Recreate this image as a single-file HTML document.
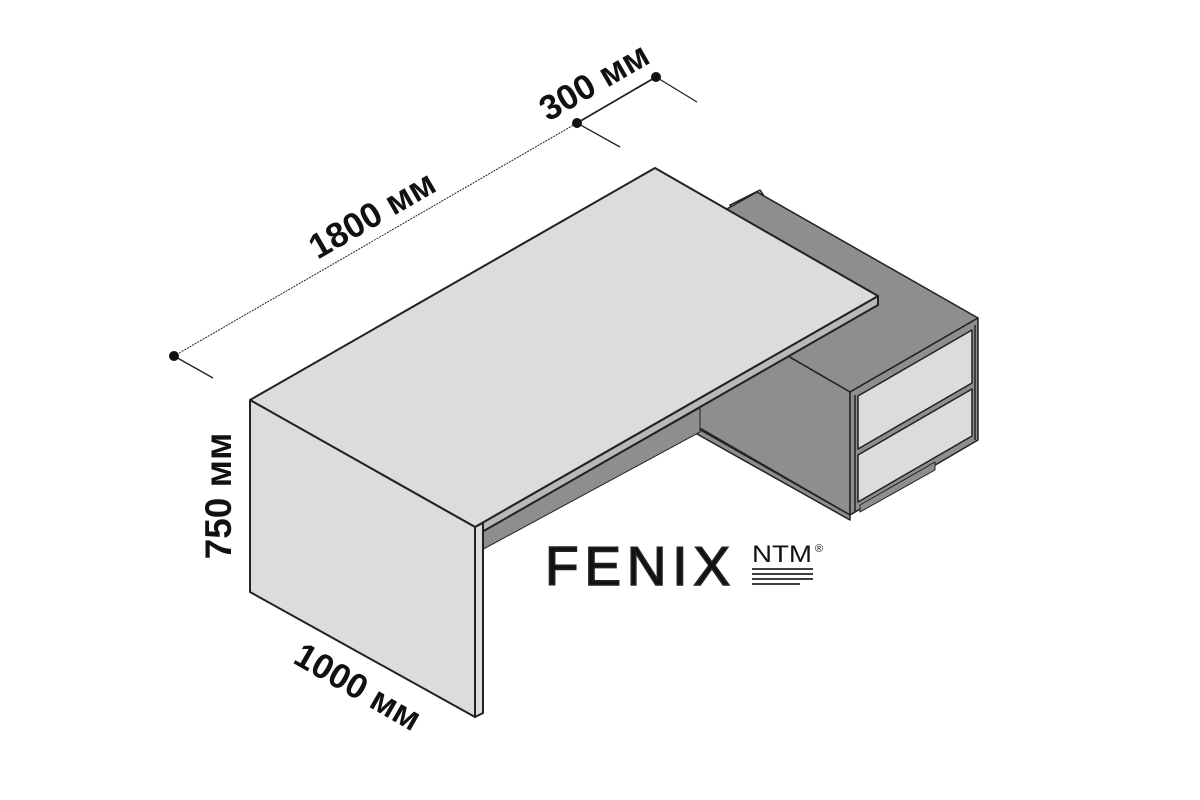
<!DOCTYPE html>
<html><head><meta charset="utf-8"><style>
html,body{margin:0;padding:0;background:#fff;}
svg{display:block;}
text{font-family:"Liberation Sans",sans-serif;font-weight:bold;fill:#111;}
</style></head><body>
<svg width="1200" height="800" viewBox="0 0 1200 800" xmlns="http://www.w3.org/2000/svg">
<rect width="1200" height="800" fill="#fff"/>
<g stroke="#222" fill="none">
<line x1="174" y1="356" x2="577" y2="123" stroke-width="1" stroke-dasharray="2,1"/>
<line x1="577" y1="123" x2="656" y2="77" stroke-width="1.8"/>
<line x1="174" y1="356" x2="213" y2="378" stroke-width="1.3"/>
<line x1="577" y1="123" x2="620" y2="147" stroke-width="1.3"/>
<line x1="656" y1="77" x2="697" y2="102" stroke-width="1.3"/>
</g>
<g fill="#111"><circle cx="174" cy="356" r="5"/><circle cx="577" cy="123" r="5"/><circle cx="656" cy="77" r="5"/></g>
<text font-size="35" text-anchor="middle" transform="translate(378,225) rotate(-30)">1800 мм</text>
<text font-size="35" text-anchor="middle" transform="translate(600,92) rotate(-30)">300 мм</text>
<text font-size="37" text-anchor="middle" transform="translate(231,496) rotate(-90)">750 мм</text>
<text font-size="35" text-anchor="middle" transform="translate(352,697) rotate(30)">1000 мм</text>

<g stroke="#222" stroke-width="1.5" stroke-linejoin="round">
<polygon points="730,205 760,190 764,196 734,212" fill="#bbb"/>
<polygon points="978,318 757,192 629,264 850,392" fill="#8e8e90"/>
<polygon points="850,392 629,264 629,387 850,515" fill="#8e8e90"/>
<polygon points="697,428 850,515 850,520 697,434" fill="#8e8e90"/>
<polygon points="850,392 978,318 978,440 850,515" fill="#8e8e90"/>
<polygon points="858,396 972,330 972,383 858,449" fill="#dcdcde"/>
<polygon points="858,455 972,389 972,436 858,502" fill="#dcdcde"/>
<line x1="855" y1="395" x2="855" y2="512"/>
<line x1="975" y1="325" x2="975" y2="440"/>
<polygon points="860,505 935,462 935,470 860,512" fill="#8e8e90" stroke-width="1"/>
</g>
<polygon points="478,533 700,408 700,432 478,552" fill="#8e8e90" stroke="#222" stroke-width="1"/>
<g stroke="#222" stroke-width="2" stroke-linejoin="round">
<polygon points="475,527 878,296 878,305 475,536" fill="#b8b8ba"/>
<polygon points="250,400 655,168 878,296 475,527" fill="#dcdcde"/>
<polygon points="250,400 475,527 475,717 250,592" fill="#dcdcde"/>
<polygon points="475,527 483,523 483,713 475,717" fill="#dcdcde"/>
</g>
<text x="545" y="585" font-size="55" style="font-weight:normal" stroke="#222" stroke-width="1.6" textLength="185" lengthAdjust="spacing" fill="#222">FENIX</text>
<text x="752" y="562" font-size="24" style="font-weight:normal" fill="#222" textLength="60" lengthAdjust="spacingAndGlyphs">NTM</text>
<text x="815" y="552" font-size="11" style="font-weight:normal" fill="#222">®</text>
<g stroke="#222" stroke-width="1.8">
<line x1="752" y1="569" x2="813" y2="569"/>
<line x1="752" y1="574" x2="813" y2="574"/>
<line x1="752" y1="579" x2="813" y2="579"/>
<line x1="752" y1="584" x2="800" y2="584"/>
</g>
</svg>
</body></html>
